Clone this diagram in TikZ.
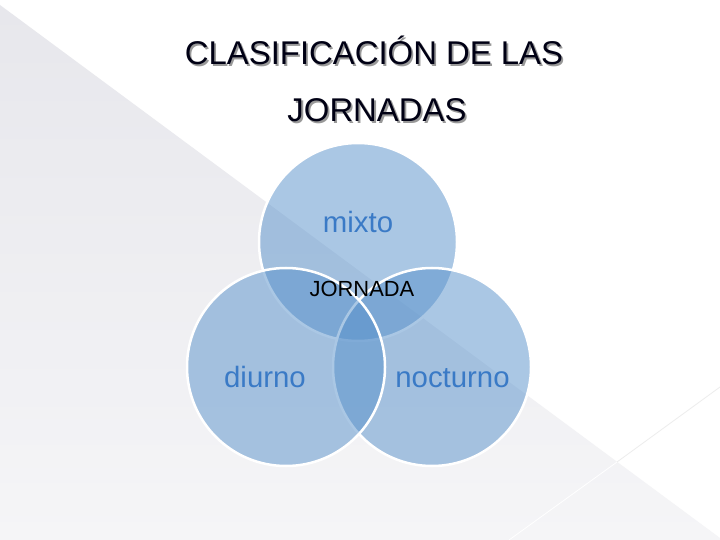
\documentclass[tikz,border=0pt]{standalone}
\usepackage{fontspec}
\setmainfont{Liberation Sans}
\usepackage{xcolor}
\usetikzlibrary{positioning}

\definecolor{vennblue}{RGB}{87,145,203}
\definecolor{labelblue}{RGB}{58,122,198}
\definecolor{bgtop}{RGB}{231,231,236}
\definecolor{bgbottom}{RGB}{245,245,247}

% text with a soft grey drop shadow
\newcommand\shadowedtext[1]{%
  \makebox[0pt][l]{\hspace{1.8bp}\raisebox{-1.8bp}{\textcolor{black!40}{#1}}}#1}

\begin{document}
\begin{tikzpicture}[x=1bp, y=-1bp,
  venn/.style={
    circle, draw=white, line width=2.5bp, fill=vennblue, fill opacity=0.5,
    minimum size=198bp, inner sep=0pt
  },
  vennlabel/.style={
    anchor=base, inner sep=0pt, text=labelblue,
    font=\fontsize{29.5}{34}\selectfont
  },
  centerlabel/.style={
    anchor=base, inner sep=0pt, text=black,
    font=\fontsize{22}{26}\selectfont
  },
  titletext/.style={
    anchor=base, inner sep=0pt, text=black!92!blue,
    font=\fontsize{33}{40}\selectfont
  }
]

% Background
\useasboundingbox (0,0) rectangle (720,540);
\fill[white] (0,0) rectangle (720,540);
\shade[top color=bgtop, bottom color=bgbottom] (0,5) -- (720,538) -- (720,540) -- (0,540) -- cycle;
\draw[black!7, line width=0.8bp] (720,387) -- (617,462);
\draw[white, line width=0.8bp] (617,462) -- (509,540);

% Title
\node[titletext] (titleone) at (374,65) {\shadowedtext{CLASIFICACIÓN DE LAS}};
\node[titletext] (titletwo) at (377,122) {\shadowedtext{JORNADAS}};

% Circles
\node[venn] (mixto) at (358,242) {};
\node[venn] (nocturno) at (432,367) {};
\node[venn] (diurno) at (286,367) {};

% Labels
\node[vennlabel] (mixtotext) at (358,233) {mixto};
\node[vennlabel] (diurnotext) at (265,387) {diurno};
\node[vennlabel] (nocturnotext) at (452.5,387) {nocturno};
\node[centerlabel] (jornada) at (362,296) {JORNADA};

\end{tikzpicture}
\end{document}
